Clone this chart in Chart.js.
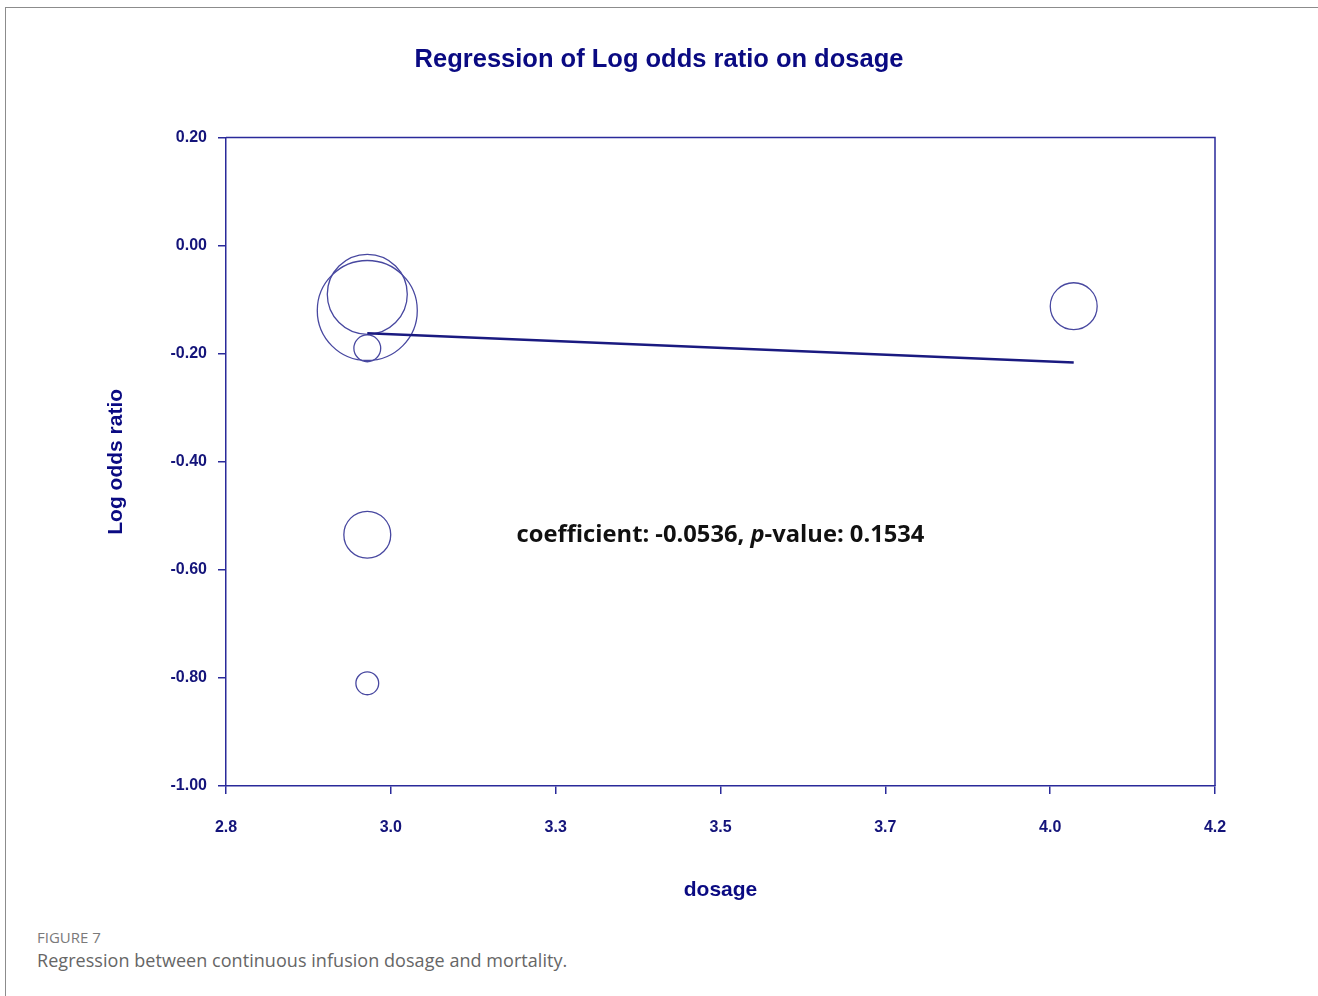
<!DOCTYPE html>
<html>
<head>
<meta charset="utf-8">
<title>Regression of Log odds ratio on dosage</title>
<script src="https://cdn.jsdelivr.net/npm/chart.js@4.4.1/dist/chart.umd.min.js"></script>
<style>
  html, body { margin: 0; padding: 0; background: #fff; }
  body { width: 1318px; height: 996px; position: relative; overflow: hidden; font-family: "Open Sans", sans-serif; }
  #frame { position: absolute; left: 5px; top: 7px; right: 0; bottom: 0; border-top: 1px solid #8c8c8c; border-left: 1px solid #8c8c8c; }
  #wrap { position: absolute; left: 0; top: 0; width: 1318px; height: 920px; }
  #caption { position: absolute; left: 37px; top: 927px; }
  .fig { font-size: 15px; line-height: 20px; color: #7a7a7a; }
  .cap { font-size: 18px; line-height: 24px; color: #666; margin-top: 1px; letter-spacing: 0.05px; }
</style>
</head>
<body>
<div id="frame"></div>
<div id="wrap"><canvas id="regChart" width="1318" height="920"></canvas></div>
<div id="caption">
  <div class="fig">FIGURE 7</div>
  <div class="cap">Regression between continuous infusion dosage and mortality.</div>
</div>
<script>
// studies (bubbles)
const dosage = [3.0, 3.0, 3.0, 3.0, 3.0, 4.0];
const logOddsRatio = [-0.12, -0.09, -0.19, -0.535, -0.81, -0.112];
const studyWeight = [25, 16, 1.8, 5.5, 1.3, 5.5];

// fitted regression line
const fitDosage = [3.0, 4.0];
const fitLogOR = [-0.162, -0.216];

// axis ticks
const xTickLabels = ["2.8", "3.0", "3.3", "3.5", "3.7", "4.0", "4.2"];
const xMin = 2.8, xMax = 4.2;
const yTicks = [0.2, 0.0, -0.2, -0.4, -0.6, -0.8, -1.0];

const coefText = "coefficient: -0.0536, ";
const pText = "p";
const pValueText = "-value: 0.1534";
const notePos = { x: 3.5, y: -0.535 };

const navy = "#14147a";
const axisColor = "#2a2a9a";
const tickFont = { family: "Liberation Sans, Arial, sans-serif", size: 16, weight: "bold" };

const ctx = document.getElementById("regChart").getContext("2d");

// top + right edges of the plot box
const boxPlugin = {
  id: "box",
  afterDraw(chart) {
    const a = chart.chartArea;
    const c = chart.ctx;
    c.save();
    c.strokeStyle = axisColor;
    c.lineWidth = 1.5;
    c.beginPath();
    c.moveTo(a.left, a.top);
    c.lineTo(a.right, a.top);
    c.lineTo(a.right, a.bottom);
    c.stroke();
    c.restore();
  }
};

// coefficient / p-value note
const notePlugin = {
  id: "note",
  afterDatasetsDraw(chart) {
    const c = chart.ctx;
    const fam = "'Open Sans', 'Noto Sans', sans-serif";
    c.save();
    c.font = "bold 24px " + fam;
    let w = c.measureText(coefText + pValueText).width;
    c.font = "italic bold 24px " + fam;
    w += c.measureText(pText).width;
    const size = 24 * 408 / w;
    const parts = [[coefText, "bold "], [pText, "italic bold "], [pValueText, "bold "]];
    let total = 0;
    parts.forEach(p => { c.font = p[1] + size + "px " + fam; total += c.measureText(p[0]).width; });
    let x = chart.scales.x.getPixelForValue(notePos.x) - total / 2;
    const y = chart.scales.y.getPixelForValue(notePos.y);
    c.fillStyle = "#111";
    c.textBaseline = "middle";
    c.textAlign = "left";
    parts.forEach(p => {
      c.font = p[1] + size + "px " + fam;
      c.fillText(p[0], x, y);
      x += c.measureText(p[0]).width;
    });
    c.restore();
  }
};

new Chart(ctx, {
  type: "bubble",
  data: {
    datasets: [
      {
        type: "line",
        label: "Regression",
        data: fitDosage.map((d, i) => ({ x: d, y: fitLogOR[i] })),
        borderColor: "#1a1a80",
        borderWidth: 2.5,
        pointRadius: 0,
        fill: false,
        order: 0
      },
      {
        label: "Studies",
        data: dosage.map((d, i) => ({ x: d, y: logOddsRatio[i], r: 10 * Math.sqrt(studyWeight[i]) })),
        backgroundColor: "rgba(0,0,0,0)",
        borderColor: "#4848a0",
        borderWidth: 1.3,
        hoverRadius: 0,
        order: 1
      }
    ]
  },
  plugins: [boxPlugin, notePlugin],
  options: {
    responsive: false,
    animation: false,
    events: [],
    layout: { padding: 0 },
    plugins: {
      legend: { display: false },
      tooltip: { enabled: false },
      title: {
        display: true,
        text: "Regression of Log odds ratio on dosage",
        color: "#0a0a82",
        font: { family: "Liberation Sans, Arial, sans-serif", size: 25.5, weight: "bold" },
        padding: { top: 45, bottom: 62 }
      }
    },
    scales: {
      x: {
        type: "linear",
        position: "bottom",
        min: xMin,
        max: xMax,
        afterBuildTicks(scale) {
          const step = (xMax - xMin) / (xTickLabels.length - 1);
          scale.ticks = xTickLabels.map((_, i) => ({ value: xMin + i * step }));
        },
        afterFit(scale) { scale.height = 134; },
        grid: { display: true, drawOnChartArea: false, drawTicks: true, tickLength: 8, color: axisColor, lineWidth: 1.5 },
        border: { display: true, color: axisColor, width: 1.5 },
        ticks: {
          color: navy,
          font: tickFont,
          padding: 24,
          maxRotation: 0,
          autoSkip: false,
          callback: (v, i) => xTickLabels[i]
        },
        title: {
          display: true,
          text: "dosage",
          color: "#0a0a82",
          font: { family: "Liberation Sans, Arial, sans-serif", size: 21, weight: "bold" },
          padding: { top: 0, bottom: 17 }
        }
      },
      y: {
        type: "linear",
        position: "left",
        min: -1.0,
        max: 0.2,
        afterBuildTicks(scale) {
          scale.ticks = yTicks.map(v => ({ value: v }));
        },
        afterFit(scale) { scale.width = 226; },
        grid: { display: true, drawOnChartArea: false, drawTicks: true, tickLength: 8, color: axisColor, lineWidth: 1.5 },
        border: { display: true, color: axisColor, width: 1.5 },
        ticks: {
          color: navy,
          font: tickFont,
          padding: 11,
          autoSkip: false,
          callback: v => v.toFixed(2)
        },
        title: {
          display: true,
          text: "Log odds ratio",
          color: "#0a0a82",
          font: { family: "Liberation Sans, Arial, sans-serif", size: 21, weight: "bold" },
          padding: { top: 104, bottom: 0 }
        }
      },
      yR: {
        type: "linear",
        position: "right",
        display: true,
        grid: { display: false },
        border: { display: false },
        ticks: { display: false },
        afterFit(scale) { scale.width = 103; }
      }
    }
  }
});
</script>
</body>
</html>
